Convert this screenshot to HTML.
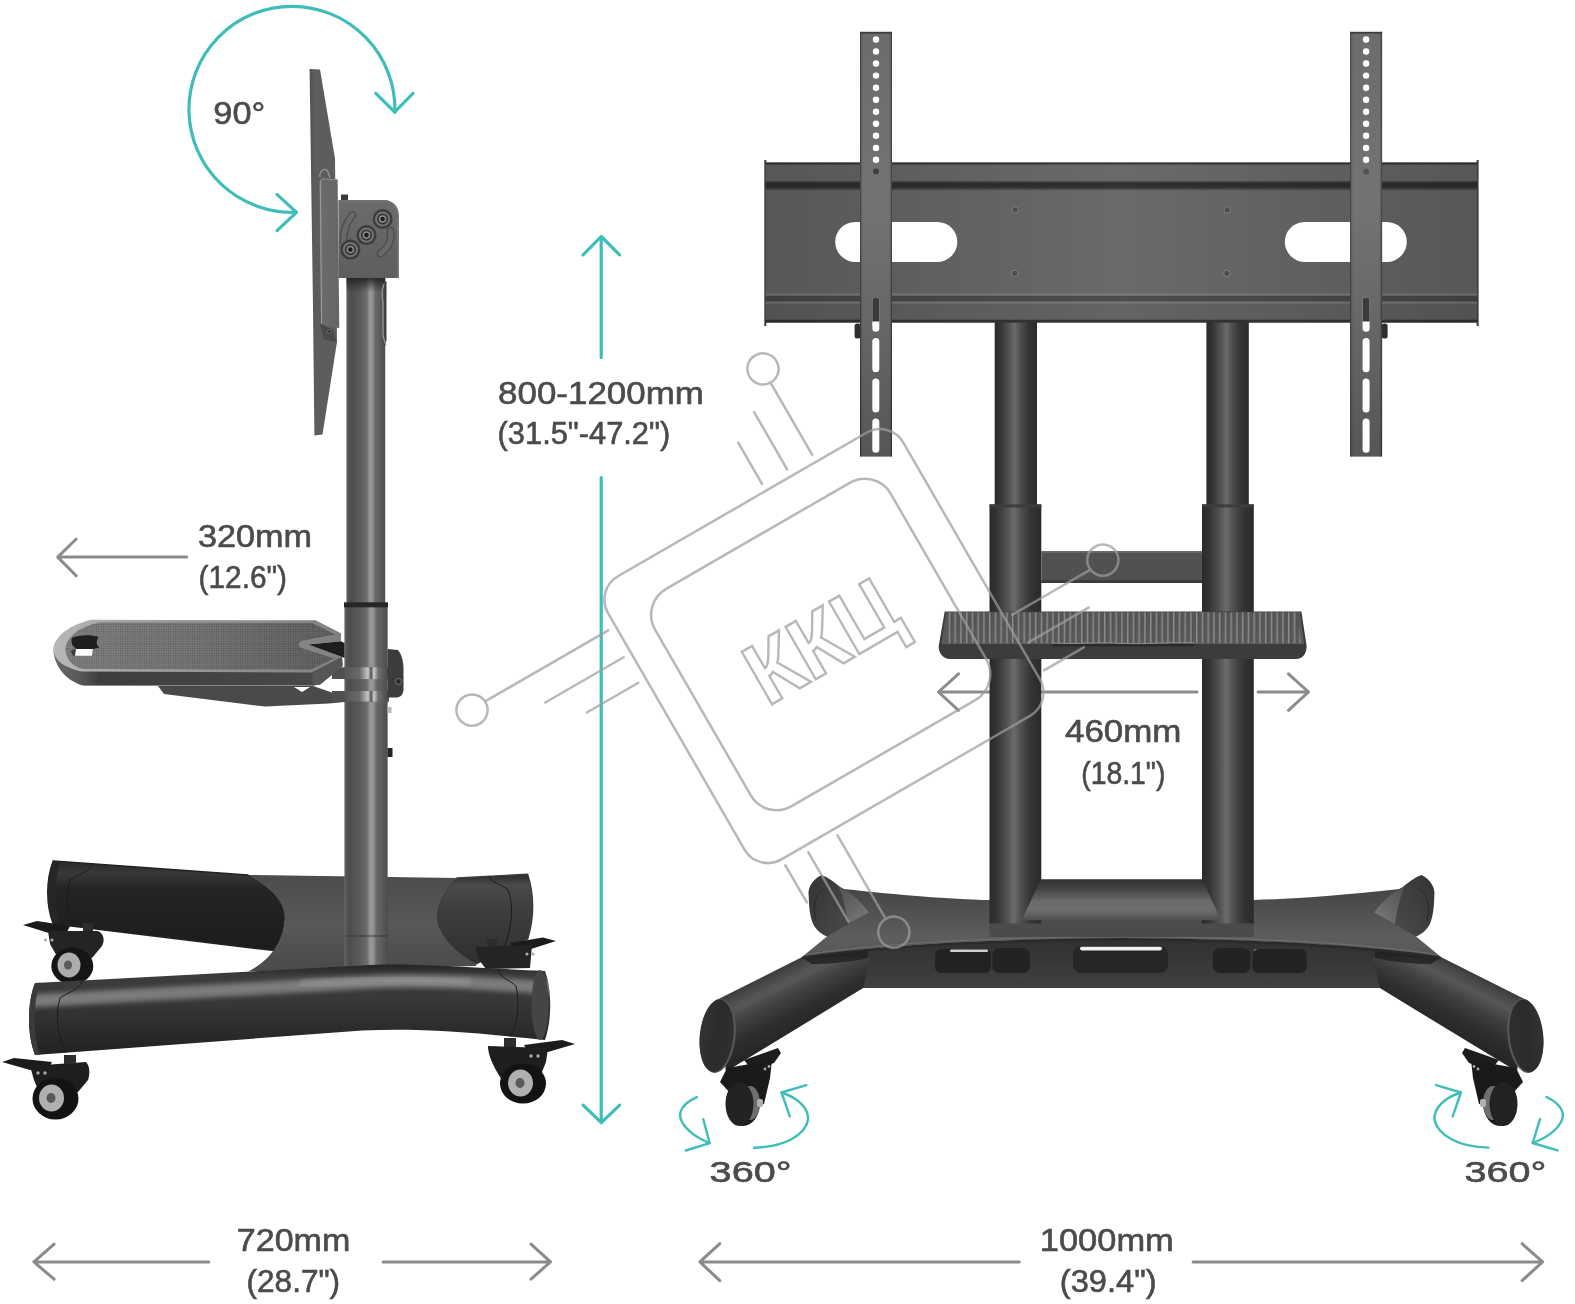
<!DOCTYPE html>
<html lang="en">
<head>
<meta charset="utf-8">
<title>TV cart dimensions</title>
<style>
html,body{margin:0;padding:0;background:#fff;}
body{width:1575px;height:1304px;overflow:hidden;font-family:"Liberation Sans",sans-serif;}
svg{display:block;position:absolute;left:0;top:0;}
.t{font-family:"Liberation Sans",sans-serif;font-size:30.8px;fill:#4b4b4b;stroke:#4b4b4b;stroke-width:.6px;}
.teal{fill:none;stroke:#3fbdb9;stroke-linecap:round;stroke-linejoin:round;}
.gr{fill:none;stroke:#8b8b8b;stroke-width:3;stroke-linecap:round;stroke-linejoin:round;}
.wm{fill:none;stroke:#9d9d9d;stroke-width:2.5;stroke-linecap:round;}
</style>
</head>
<body>
<svg width="1575" height="1304" viewBox="0 0 1575 1304">
<defs>
<linearGradient id="poleL" x1="0" y1="0" x2="1" y2="0"><stop offset="0" stop-color="#6c6c6c"/><stop offset=".04" stop-color="#565656"/><stop offset=".13" stop-color="#4d4d4d"/><stop offset=".36" stop-color="#5b5b5b"/><stop offset=".52" stop-color="#6c6c6c"/><stop offset=".6" stop-color="#989898"/><stop offset=".67" stop-color="#929292"/><stop offset=".75" stop-color="#686868"/><stop offset=".9" stop-color="#585858"/><stop offset="1" stop-color="#4c4c4c"/></linearGradient>
<linearGradient id="poleShadow" x1="0" y1="0" x2="0" y2="1">
  <stop offset="0" stop-color="#1e1e1e" stop-opacity=".85"/><stop offset="1" stop-color="#1e1e1e" stop-opacity="0"/>
</linearGradient>
<linearGradient id="ring" x1="0" y1="0" x2="1" y2="0">
  <stop offset="0" stop-color="#555"/><stop offset=".35" stop-color="#6a6a6a"/><stop offset=".55" stop-color="#c8c8c8"/><stop offset=".62" stop-color="#505050"/><stop offset=".68" stop-color="#d0d0d0"/><stop offset=".78" stop-color="#707070"/><stop offset="1" stop-color="#4a4a4a"/>
</linearGradient>
<linearGradient id="tubeBack" x1="0" y1="0" x2="0" y2="1"><stop offset="0" stop-color="#2a2a2a"/><stop offset=".14" stop-color="#383838"/><stop offset=".32" stop-color="#242424"/><stop offset="1" stop-color="#1c1c1c"/></linearGradient>
<linearGradient id="tubeBackR" x1="0" y1="0" x2="0" y2="1"><stop offset="0" stop-color="#2a2a2a"/><stop offset=".12" stop-color="#4a4a4a"/><stop offset=".4" stop-color="#3e3e3e"/><stop offset="1" stop-color="#2f2f2f"/></linearGradient>
<linearGradient id="tubeFront" x1="0" y1="0" x2="0" y2="1"><stop offset="0" stop-color="#242424"/><stop offset=".12" stop-color="#3c3c3c"/><stop offset=".4" stop-color="#383838"/><stop offset=".7" stop-color="#2c2c2c"/><stop offset="1" stop-color="#222"/></linearGradient>
<linearGradient id="midPlate" x1="0" y1="0" x2="0" y2="1"><stop offset="0" stop-color="#4c4c4c"/><stop offset=".5" stop-color="#585858"/><stop offset="1" stop-color="#4a4a4a"/></linearGradient>
<linearGradient id="shelfTop" gradientUnits="userSpaceOnUse" x1="62" y1="0" x2="336" y2="0">
  <stop offset="0" stop-color="#7c7c7c"/><stop offset=".5" stop-color="#707070"/><stop offset="1" stop-color="#5a5a5a"/>
</linearGradient>
<linearGradient id="shelfRim" gradientUnits="userSpaceOnUse" x1="53" y1="0" x2="342" y2="0">
  <stop offset="0" stop-color="#b8b8b8"/><stop offset=".2" stop-color="#a8a8a8"/><stop offset=".6" stop-color="#909090"/><stop offset="1" stop-color="#808080"/>
</linearGradient>
<linearGradient id="shelfFront" gradientUnits="userSpaceOnUse" x1="53" y1="0" x2="342" y2="0">
  <stop offset="0" stop-color="#6a6a6a"/><stop offset=".1" stop-color="#565656"/><stop offset=".16" stop-color="#3e3e3e"/><stop offset="1" stop-color="#4a4a4a"/>
</linearGradient>
<pattern id="mesh" width="2.4" height="2.4" patternUnits="userSpaceOnUse">
  <rect width="2.4" height="2.4" fill="none"/><rect width="1.1" height="1.1" fill="#3a3a3a" opacity=".35"/><rect x="1.2" y="1.2" width="1.1" height="1.1" fill="#a0a0a0" opacity=".3"/>
</pattern>
<linearGradient id="headBox" x1="0" y1="0" x2="0" y2="1"><stop offset="0" stop-color="#6c6c6c"/><stop offset=".5" stop-color="#646464"/><stop offset="1" stop-color="#5e5e5e"/></linearGradient>
<linearGradient id="tvPlate" x1="0" y1="0" x2="1" y2="0"><stop offset="0" stop-color="#4e4e4e"/><stop offset=".15" stop-color="#5c5c5c"/><stop offset="1" stop-color="#5e5e5e"/></linearGradient>
<linearGradient id="bracket" x1="0" y1="0" x2="1" y2="0"><stop offset="0" stop-color="#787878"/><stop offset=".2" stop-color="#6a6a6a"/><stop offset="1" stop-color="#666"/></linearGradient>
<filter id="blur4" x="-5%" y="-60%" width="110%" height="220%"><feGaussianBlur stdDeviation="4"/></filter>
<filter id="blur2" x="-5%" y="-60%" width="110%" height="220%"><feGaussianBlur stdDeviation="2.5"/></filter>
<clipPath id="clipFront"><path d="M35,983 L362,965.5 C400,963 440,966 545,971 C552,990 552,1020 545,1040 C470,1032 420,1028 362,1030.5 L35,1055 C27,1035 27,1003 35,983Z"/></clipPath>
<linearGradient id="poleR" x1="0" y1="0" x2="1" y2="0">
  <stop offset="0" stop-color="#2a2a2a"/><stop offset=".15" stop-color="#353535"/><stop offset=".35" stop-color="#545454"/><stop offset=".47" stop-color="#6b6b6b"/><stop offset=".6" stop-color="#505050"/><stop offset=".8" stop-color="#343434"/><stop offset="1" stop-color="#2a2a2a"/>
</linearGradient>
<linearGradient id="arm" x1="0" y1="0" x2="0" y2="1"><stop offset="0" stop-color="#6c6c6c"/><stop offset=".4" stop-color="#737373"/><stop offset=".7" stop-color="#666"/><stop offset="1" stop-color="#565656"/></linearGradient>
<linearGradient id="armEdge" x1="0" y1="0" x2="1" y2="0"><stop offset="0" stop-color="#000" stop-opacity=".55"/><stop offset=".045" stop-color="#000" stop-opacity=".12"/><stop offset=".1" stop-color="#000" stop-opacity="0"/><stop offset=".9" stop-color="#000" stop-opacity="0"/><stop offset=".955" stop-color="#000" stop-opacity=".12"/><stop offset="1" stop-color="#000" stop-opacity=".55"/></linearGradient>
<linearGradient id="groove" x1="0" y1="0" x2="0" y2="1">
  <stop offset="0" stop-color="#000" stop-opacity=".25"/><stop offset=".3" stop-color="#000" stop-opacity=".58"/><stop offset=".7" stop-color="#000" stop-opacity=".5"/><stop offset="1" stop-color="#000" stop-opacity=".15"/>
</linearGradient>
<linearGradient id="plateH" x1="0" y1="0" x2="1" y2="0">
  <stop offset="0" stop-color="#575757"/><stop offset=".25" stop-color="#606060"/><stop offset=".5" stop-color="#6a6a6a"/><stop offset=".75" stop-color="#606060"/><stop offset="1" stop-color="#575757"/>
</linearGradient>
<linearGradient id="shelfR" x1="0" y1="0" x2="0" y2="1"><stop offset="0" stop-color="#555"/><stop offset="1" stop-color="#5b5b5b"/></linearGradient>
<pattern id="ribs" width="5.75" height="10" patternUnits="userSpaceOnUse">
  <rect width="5.75" height="10" fill="none"/><rect x="0" width="1.6" height="10" fill="#929292" opacity=".9"/><rect x="1.6" width="1" height="10" fill="#3a3a3a" opacity=".35"/>
</pattern>
<linearGradient id="beam" x1="0" y1="0" x2="0" y2="1"><stop offset="0" stop-color="#303030"/><stop offset=".5" stop-color="#383838"/><stop offset="1" stop-color="#404040"/></linearGradient>
<linearGradient id="lowBar" x1="0" y1="0" x2="0" y2="1"><stop offset="0" stop-color="#303030"/><stop offset=".2" stop-color="#404040"/><stop offset=".55" stop-color="#6c6c6c"/><stop offset=".75" stop-color="#6e6e6e"/><stop offset="1" stop-color="#4e4e4e"/></linearGradient>
<linearGradient id="stubL" x1="0" y1="0" x2="1" y2="0.6">
  <stop offset="0" stop-color="#333"/><stop offset=".5" stop-color="#404040"/><stop offset="1" stop-color="#4c4c4c"/>
</linearGradient>
<linearGradient id="legL" gradientUnits="userSpaceOnUse" x1="755" y1="980" x2="785.2" y2="1040.3">
  <stop offset="0" stop-color="#3a3a3a"/><stop offset=".12" stop-color="#4a4a4a"/><stop offset=".25" stop-color="#575757"/><stop offset=".42" stop-color="#424242"/><stop offset=".7" stop-color="#2e2e2e"/><stop offset="1" stop-color="#252525"/>
</linearGradient>
<linearGradient id="topSurf" gradientUnits="userSpaceOnUse" x1="0" y1="888" x2="0" y2="957"><stop offset="0" stop-color="#454545"/><stop offset=".3" stop-color="#4f4f4f"/><stop offset=".7" stop-color="#5d5d5d"/><stop offset=".9" stop-color="#595959"/><stop offset="1" stop-color="#505050"/></linearGradient>
<linearGradient id="stubCone" x1="0" y1="0" x2="1" y2="1">
  <stop offset="0" stop-color="#505050"/><stop offset=".6" stop-color="#6a6a6a"/><stop offset="1" stop-color="#7c7c7c"/>
</linearGradient>
<linearGradient id="cap" x1="0" y1="0" x2="1" y2="0">
  <stop offset="0" stop-color="#333"/><stop offset=".5" stop-color="#2b2b2b"/><stop offset="1" stop-color="#2f2f2f"/>
</linearGradient>

</defs>
<rect width="1575" height="1304" fill="#fff"/>

<!-- ===== annotation lines that sit behind product ===== -->
<g id="ann-back">
  <path class="gr" d="M939,692H1197M1258,692H1308"/>
</g>

<!-- ===== LEFT FIGURE ===== -->
<g id="left-fig">
<!-- back tube (far) -->
<path fill="url(#tubeBack)" stroke="#222" stroke-width="1.6" d="M53.3,861 L247.6,875 C275,890 288,905 284,922 C283,935 278,945 274,950.5 L53.3,923.8 C46,905 46,880 53.3,861Z"/>
<path fill="#262626" d="M53,861 C46,880 46,905 53,924 L60,925 C54,905 54,880 60,861Z"/>
<path fill="none" stroke="#1c1c1c" stroke-width="1" d="M93,863 C90,872 78,874 70,880 C64,900 66,915 76,925"/>
<path fill="url(#tubeBackR)" stroke="#3c3c3c" stroke-width="1.6" d="M457,878 L527.6,874.3 C534,895 534,918 527.6,939 L476,963.8 C462,957 448,945 440,930 C432,915 440,895 457,878Z"/>
<path fill="none" stroke="#1a1a1a" stroke-width="1" d="M489,876 C492,884 502,884 508,890 C514,905 512,925 505,945"/>
<!-- back casters -->
<g id="casterBL">
  <path fill="#1b1b1b" d="M23,925 L37,921 L70,926 L66,934 L52,934Z"/>
  <path fill="#242424" d="M48,931 L98,931 C104,934 105,940 102,946 L92,958 L58,958 L50,944Z"/>
  <rect x="83" y="923" width="10" height="8" fill="#2c2c2c"/>
  <ellipse cx="72.3" cy="966" rx="21" ry="18.5" fill="#151515"/>
  <ellipse cx="69" cy="965" rx="11.5" ry="12.5" fill="#adadad"/>
  <ellipse cx="68" cy="965" rx="4" ry="4.5" fill="#5a5a5a"/>
  <circle cx="45.5" cy="940" r="1.6" fill="#aaa"/><circle cx="52" cy="940" r="1.6" fill="#aaa"/>
</g>
<g id="casterBR">
  <path fill="#1b1b1b" d="M556,941 L543,937.5 L510,943 L514,950 L528,950Z"/>
  <path fill="#242424" d="M476,947 L532,945 L530,968 L486,969 C480,962 476,955 476,947Z"/>
  <rect x="487" y="939" width="10" height="8" fill="#2c2c2c"/>
  <circle cx="527" cy="954" r="1.6" fill="#aaa"/><circle cx="533" cy="954" r="1.6" fill="#aaa"/>
</g>
<!-- middle plate -->
<path fill="url(#midPlate)" d="M247.6,875 L457,878 C440,895 432,915 440,930 C448,945 462,957 476,964 L476,966 L248,971.4 C262,965 280,950 284,925 C288,905 275,890 247.6,875Z"/>
<!-- pole lower (wide) -->
<rect x="344.4" y="604" width="43.2" height="364" fill="url(#poleL)"/>
<rect x="344.4" y="935" width="43.2" height="2" fill="#3a3a3a" opacity=".5"/>
<!-- pole upper -->
<rect x="346.4" y="276" width="38.8" height="328" fill="url(#poleL)"/>
<rect x="346.4" y="278" width="38.8" height="14" fill="url(#poleShadow)"/>
<rect x="344" y="602.3" width="44" height="5" fill="#262626"/>
<!-- rear cable clip on pole -->
<path fill="#3c3c3c" d="M384.5,282 L386.5,281 L386.5,340 L384.5,346Z"/>
<path fill="none" stroke="#9a9a9a" stroke-width="1.2" d="M384,284 C381,292 382,298 383,302 L383,333 C383,338 385,342 386,346"/>
<!-- small pins on pole right -->
<rect x="387.5" y="707" width="4" height="6" fill="#b8b8b8"/>
<rect x="387.5" y="748" width="5" height="9" fill="#222"/>
<!-- front tube -->
<path fill="url(#tubeFront)" d="M35,983 L362,965.5 C400,963 440,966 545,971 C552,990 552,1020 545,1040 C470,1032 420,1028 362,1030.5 L35,1055 C27,1035 27,1003 35,983Z"/>
<g clip-path="url(#clipFront)"><path fill="none" stroke="#8c8c8c" stroke-width="13" filter="url(#blur2)" opacity=".8" d="M30,1001 L362,982.5 C420,979 470,982 550,988"/><path fill="none" stroke="#9a9a9a" stroke-width="7" filter="url(#blur2)" opacity=".6" d="M300,984 C380,979 420,979 470,982"/></g>
<path fill="#3a3a3a" d="M35,983 C27,1003 27,1035 35,1055 L40,1054.6 C33,1035 33,1003 40,982.7Z"/>
<path fill="none" stroke="#1c1c1c" stroke-width="1" d="M82,981 C80,990 68,992 60,998 C55,1015 57,1035 66,1053"/>
<path fill="none" stroke="#1c1c1c" stroke-width="1" d="M498,969.5 C500,978 510,980 516,986 C520,1003 518,1025 510,1037"/>
<ellipse cx="540" cy="1005" rx="8.5" ry="35" fill="#454545"/>
<!-- front casters -->
<g id="casterFL">
  <path fill="#1b1b1b" d="M2,1062 L14,1058 L52,1062 L48,1070 L30,1070Z"/>
  <path fill="#1e1e1e" d="M30,1066 L86,1062 C90,1066 90,1074 88,1080 L78,1092 L40,1094 L34,1080Z"/>
  <rect x="64" y="1055" width="12" height="9" fill="#2c2c2c"/>
  <ellipse cx="55.5" cy="1098.5" rx="23" ry="21" fill="#131313"/>
  <ellipse cx="51.5" cy="1098" rx="12.5" ry="13.5" fill="#b0b0b0"/>
  <ellipse cx="51" cy="1098" rx="4.5" ry="5" fill="#5a5a5a"/>
  <circle cx="38" cy="1073" r="1.7" fill="#aaa"/><circle cx="45" cy="1073" r="1.7" fill="#aaa"/>
</g>
<g id="casterFR">
  <path fill="#1b1b1b" d="M575,1044 L562,1040 L524,1045 L528,1052 L548,1052Z"/>
  <path fill="#1e1e1e" d="M488,1046 L548,1048 L546,1062 L538,1082 L502,1080 C494,1068 488,1056 488,1046Z"/>
  <rect x="504" y="1038" width="12" height="9" fill="#2c2c2c"/>
  <ellipse cx="523" cy="1083.5" rx="23" ry="20" fill="#131313"/>
  <ellipse cx="520.5" cy="1083" rx="12.5" ry="13.5" fill="#b0b0b0"/>
  <ellipse cx="520" cy="1083" rx="4.5" ry="5" fill="#5a5a5a"/>
  <circle cx="531" cy="1056" r="1.7" fill="#aaa"/><circle cx="538" cy="1056" r="1.7" fill="#aaa"/>
</g>
<!-- shelf under-bracket -->
<path fill="#4a4a4a" d="M158,686 L313,686 L345,697 L345,702 L329,703.5 L265,706.5 L164,694Z"/>
<path fill="#fff" d="M294,687 L310,687 L302,692Z"/>
<!-- clamp rings -->
<path fill="#505050" d="M332,667.2 L389,667.2 L389,679.1 L332,679.1Z"/>
<path fill="#505050" d="M332,691 L389,691 L389,701.7 L332,701.7Z"/>
<rect x="344.4" y="667.2" width="43.2" height="11.9" fill="url(#ring)"/>
<rect x="344.4" y="691" width="43.2" height="10.7" fill="url(#ring)"/>
<path fill="#3c3c3c" d="M387.5,649 L398,650 C402,655 403.5,662 403.5,670 L403.5,690 C403,695 400,697.5 396,697.5 L387.5,697.5Z"/>
<circle cx="398.5" cy="681.5" r="3" fill="#2a2a2a" stroke="#8a8a8a" stroke-width=".8"/>
<!-- shelf -->
<path fill="url(#shelfRim)" d="M91,619.7 L315.6,620.3 L341,633.2 L341,641.3 L308,644.5 L342,657 L342.5,666 L320,684.5 L313,685.6 L83,685.6 C65,680 54,665 53.2,648 C56,635 70,625 91,619.7Z"/>
<path fill="url(#shelfFront)" d="M53.2,648 C54,660 62,667 82,671.5 L312,672.6 L342,657 L342.5,666 L320,684.5 L313,685.6 L83,685.6 C65,680 54,666 53.2,648Z"/>
<path fill="#565656" d="M312,672.6 L342,657 L342.5,666 L320,684.5 L313,685.6Z"/>
<path fill="url(#shelfTop)" d="M99,622.6 L312,623 L335,634.5 L303,640.5 C297,642.5 297,646.5 303,648.5 L334,658.5 L311,669.5 L84,669 C72,667 66,659 65.4,649 C67,636 80,627 99,622.6Z"/>
<path fill="url(#mesh)" d="M99,622.6 L312,623 L335,634.5 L303,640.5 C297,642.5 297,646.5 303,648.5 L334,658.5 L311,669.5 L84,669 C72,667 66,659 65.4,649 C67,636 80,627 99,622.6Z"/>
<path fill="#1e1e1e" d="M308,644.5 L341,641.3 L344.5,643 L344.5,658 L342,657Z"/>
<path fill="#1f1f1f" d="M72,638 C78,634.5 92,634.5 98.5,637 C96,641 96,645 99.5,647.5 L93,649 L77,649 C72,647 70.5,641 72,638Z"/>
<path fill="#3a3a3a" d="M70.5,651 L77,648.6 L77,656 L73,655.5Z"/>
<path fill="#fff" d="M76,649 L92.8,649 L92,655.7 L75,655.7Z"/>
<!-- head box -->
<rect x="341" y="194.5" width="7" height="6" fill="#3a3a3a"/>
<path fill="url(#headBox)" d="M338.4,200 L384,200 C393,200 398.8,207 398.8,215 L398.8,278 L338.4,278Z"/>
<path fill="none" stroke="#747474" stroke-width="1.3" d="M339,201 L384,201 C392.5,201 397.8,207.5 397.8,215 L397.8,277"/>
<path fill="none" stroke="#484848" stroke-width="7.5" stroke-linecap="round" d="M352.4,215 C346.5,222 343.5,232 343.6,241.5"/>
<path fill="none" stroke="#686868" stroke-width="5.3" stroke-linecap="round" d="M352.4,215 C346.5,222 343.5,232 343.6,241.5"/>
<path fill="none" stroke="#484848" stroke-width="7.5" stroke-linecap="round" d="M390.5,231 C392,240 388,249 380.5,253.5"/>
<path fill="none" stroke="#686868" stroke-width="5.3" stroke-linecap="round" d="M390.5,231 C392,240 388,249 380.5,253.5"/>
<g>
  <circle cx="382.6" cy="219" r="10" fill="#3c3c3c"/><circle cx="382.6" cy="219" r="7.6" fill="#737373"/><circle cx="382.6" cy="219" r="5.6" fill="#383838"/><circle cx="382.6" cy="219" r="3.8" fill="#8e8e8e"/><circle cx="382.6" cy="219" r="2.3" fill="#1e1e1e"/>
  <circle cx="366.5" cy="235.1" r="10" fill="#3c3c3c"/><circle cx="366.5" cy="235.1" r="7.6" fill="#737373"/><circle cx="366.5" cy="235.1" r="5.6" fill="#383838"/><circle cx="366.5" cy="235.1" r="3.8" fill="#8e8e8e"/><circle cx="366.5" cy="235.1" r="2.3" fill="#1e1e1e"/>
  <circle cx="350.4" cy="249.6" r="10" fill="#3c3c3c"/><circle cx="350.4" cy="249.6" r="7.6" fill="#737373"/><circle cx="350.4" cy="249.6" r="5.6" fill="#383838"/><circle cx="350.4" cy="249.6" r="3.8" fill="#8e8e8e"/><circle cx="350.4" cy="249.6" r="2.3" fill="#1e1e1e"/>
</g>
<!-- TV plate (side) -->
<path fill="url(#tvPlate)" d="M309.6,69 L320,69.4 L335,158.5 L337,342 L322.5,434.5 L314.4,435.6 L312.9,300Z"/>
<!-- hook ring -->
<path fill="none" stroke="#9a9a9a" stroke-width="1.2" d="M320,177 C319,170 326,167 328,172 L330,178"/>
<!-- bracket -->
<path fill="url(#bracket)" d="M319.5,181 L322,178.3 L337.6,179.5 L339.3,328 L321,326Z"/>
<path fill="none" stroke="#9c9c9c" stroke-width="1" d="M320.3,181 L321.6,326"/>
<path fill="none" stroke="#8c8c8c" stroke-width="1" d="M320,181 L322.4,178.8 L337.4,180"/>
<path fill="#4a4a4a" d="M319.6,323 L333,330 L336.8,342 L324,340Z"/>
<circle cx="329.5" cy="331.5" r="2" fill="#333" stroke="#8a8a8a" stroke-width=".6"/>

</g>

<!-- ===== RIGHT FIGURE ===== -->
<g id="right-fig">
<!-- ===== base ===== -->
<!-- under beam -->
<path fill="url(#beam)" d="M801.7,957.3 C880,945 980,939.5 1121.5,938.5 C1263,939.5 1363,945 1441.3,957.3 L1379.8,988.1 L863.2,988.1Z"/>
<!-- slots in beam -->
<rect x="935" y="949" width="56" height="24" rx="6" fill="#222"/>
<rect x="992.5" y="948" width="37.5" height="25" rx="7" fill="#232323"/>
<rect x="1073.2" y="946.2" width="95" height="26.6" rx="8" fill="#262626"/>
<rect x="1080" y="946.8" width="82" height="3.6" rx="1.8" fill="#f2f2f2"/>
<rect x="950" y="949.5" width="38" height="2.4" rx="1.2" fill="#cfcfcf"/>
<rect x="1254" y="949.5" width="38" height="2.4" rx="1.2" fill="#cfcfcf"/>
<rect x="1212.9" y="948" width="37.5" height="25" rx="7" fill="#232323"/>
<rect x="1252.6" y="949" width="54" height="24" rx="6" fill="#222"/>
<g id="baseHalf">
  <!-- surface half -->
  <path fill="url(#topSurf)" d="M826.9,936.4 L801.7,957.3 C880,945 980,939.5 1122,938.5 L1122,899 L989,900 C950,899 900,895 843.7,888.9Z"/>
  <!-- stub -->
  <path fill="url(#stubL)" d="M821.3,874.9 C812,880 807.5,888 808.7,895.9 C809,908 810,916 813,923.8 C816,930 821,934 826.9,936.4 L868.8,912.6 C860,900 850,892 840.9,887.5 C834,882 828,877 821.3,874.9Z"/>
  <path fill="url(#stubCone)" d="M838,886 C850,892 860,900 868.8,912.6 L848,924 C846,910 843,896 838,886Z"/>
  <path fill="none" stroke="#2a2a2a" stroke-width="1" d="M824,889 C816,893 812,905 816,921"/>
  <!-- leg -->
  <path fill="url(#legL)" d="M716,1000.2 L801.7,957.3 L870,957 L863.2,988.1 L726,1071.6Z"/>
  <!-- lip shadow on leg -->
  <path fill="#1f1f1f" opacity=".8" d="M801.7,957.3 C830,953 850,951 868,949 L868,958 C850,962 830,964 812,964Z"/>
  <!-- end cap -->
  <ellipse cx="717.8" cy="1035.8" rx="17.8" ry="37.3" transform="rotate(6 717.8 1035.8)" fill="#565656"/>
  <ellipse cx="716.6" cy="1035.8" rx="16.8" ry="36.4" transform="rotate(6 716.6 1035.8)" fill="url(#cap)"/>
</g>
<g transform="translate(2243,0) scale(-1,1)">
  <!-- surface half -->
  <path fill="url(#topSurf)" d="M826.9,936.4 L801.7,957.3 C880,945 980,939.5 1122,938.5 L1122,899 L989,900 C950,899 900,895 843.7,888.9Z"/>
  <!-- stub -->
  <path fill="url(#stubL)" d="M821.3,874.9 C812,880 807.5,888 808.7,895.9 C809,908 810,916 813,923.8 C816,930 821,934 826.9,936.4 L868.8,912.6 C860,900 850,892 840.9,887.5 C834,882 828,877 821.3,874.9Z"/>
  <path fill="url(#stubCone)" d="M838,886 C850,892 860,900 868.8,912.6 L848,924 C846,910 843,896 838,886Z"/>
  <path fill="none" stroke="#2a2a2a" stroke-width="1" d="M824,889 C816,893 812,905 816,921"/>
  <!-- leg -->
  <path fill="url(#legL)" d="M716,1000.2 L801.7,957.3 L870,957 L863.2,988.1 L726,1071.6Z"/>
  <!-- lip shadow on leg -->
  <path fill="#1f1f1f" opacity=".8" d="M801.7,957.3 C830,953 850,951 868,949 L868,958 C850,962 830,964 812,964Z"/>
  <!-- end cap -->
  <ellipse cx="717.8" cy="1035.8" rx="17.8" ry="37.3" transform="rotate(6 717.8 1035.8)" fill="#565656"/>
  <ellipse cx="716.6" cy="1035.8" rx="16.8" ry="36.4" transform="rotate(6 716.6 1035.8)" fill="url(#cap)"/>
</g>
<path fill="none" stroke="#2a2a2a" stroke-width="2.4" d="M802.5,957.6 C882,945.6 980,940.2 1121.5,939.2 C1263,940.2 1361,945.6 1440.5,957.6"/>
<path fill="none" stroke="#707070" stroke-width="1" d="M806,954.5 C884,943 980,937.6 1121.5,936.6 C1263,937.6 1359,943 1437,954.5"/>
<!-- lower cross bar between poles -->
<rect x="989.5" y="919" width="264.3" height="18" fill="#4b4b4b"/>
<!-- casters -->
<g id="cL">
  <path fill="#1d1d1d" d="M744,1060 L778,1048 L781,1053 L774,1063 L752,1070Z"/>
  <path fill="#1a1a1a" d="M727,1068 L772,1060 L770,1078 L764,1104 L742,1106 L720,1082Z"/>
  <ellipse cx="743" cy="1103" rx="17" ry="23" fill="#1a1a1a"/>
  <ellipse cx="750" cy="1103" rx="10" ry="17" fill="#6e6e6e"/>
  <ellipse cx="739.5" cy="1104" rx="14" ry="22" fill="#222"/>
  <rect x="757" y="1099" width="6" height="8" rx="2" fill="#b0b0b0"/>
  <circle cx="765" cy="1069" r="1.4" fill="#aaa"/><circle cx="769" cy="1066.5" r="1.4" fill="#aaa"/>
</g>
<g id="cR" transform="translate(2243,0) scale(-1,1)">
  <path fill="#1d1d1d" d="M744,1060 L778,1048 L781,1053 L774,1063 L752,1070Z"/>
  <path fill="#1a1a1a" d="M727,1068 L772,1060 L770,1078 L764,1104 L742,1106 L720,1082Z"/>
  <ellipse cx="743" cy="1103" rx="17" ry="23" fill="#1a1a1a"/>
  <ellipse cx="750" cy="1103" rx="10" ry="17" fill="#6e6e6e"/>
  <ellipse cx="739.5" cy="1104" rx="14" ry="22" fill="#222"/>
  <rect x="757" y="1099" width="6" height="8" rx="2" fill="#b0b0b0"/>
  <circle cx="765" cy="1069" r="1.4" fill="#aaa"/><circle cx="769" cy="1066.5" r="1.4" fill="#aaa"/>
</g>
<!-- ===== poles ===== -->
<rect x="994.7" y="320" width="42.3" height="186" fill="url(#poleR)"/>
<rect x="1206.4" y="320" width="42.4" height="186" fill="url(#poleR)"/>
<rect x="989.5" y="504.4" width="51.8" height="419" fill="url(#poleR)"/>
<rect x="1202" y="504.4" width="51.8" height="419" fill="url(#poleR)"/>
<rect x="989.5" y="504.4" width="51.8" height="3" fill="#3c3c3c"/>
<rect x="1202" y="504.4" width="51.8" height="3" fill="#3c3c3c"/>
<path fill="url(#lowBar)" d="M1040.7,879.3 L1202.4,879.3 L1220.8,920.2 L1021.8,920.2Z"/>
<!-- cross bar -->
<rect x="1041.3" y="551" width="160.7" height="31.9" fill="#515151"/>
<rect x="1041.3" y="551" width="160.7" height="1.8" fill="#6a6a6a"/>
<rect x="1041.3" y="580.2" width="160.7" height="2.7" fill="#3a3a3a"/>
<!-- shelf -->
<path fill="#3c3c3c" d="M944.7,611.5 L1301.4,611.5 L1306.6,646 C1306.6,653.5 1303,659 1296,659 L950,659 C943,659 938.7,653.5 938.7,646Z"/>
<path fill="url(#shelfR)" d="M946,612 L1300,612 L1304,644 L941.5,644Z"/>
<path fill="url(#ribs)" d="M948.5,612.6 L1297.5,612.6 L1301,643.2 L944.8,643.2Z"/>
<path fill="#2a2a2a" d="M1050,643.4 L1196,643.4 L1192,646.4 L1054,646.4Z"/>
<path fill="none" stroke="#9a9a9a" stroke-width=".9" d="M1051,643 C1080,644.4 1100,641.9 1121,643.4 C1150,644.4 1170,641.9 1195,643"/>
<!-- ===== wall plate ===== -->
<rect x="764.3" y="160" width="2" height="166" fill="#3a3a3a"/>
<rect x="1476.6" y="160" width="2" height="166" fill="#3a3a3a"/>
<rect x="765.5" y="162.4" width="711.6" height="160.2" fill="url(#plateH)"/>
<rect x="765.5" y="162.4" width="711.6" height="2.2" fill="#000" opacity=".45"/>
<rect x="765.5" y="181" width="711.6" height="9.2" fill="url(#groove)"/>
<rect x="765.5" y="293.5" width="711.6" height="2.2" fill="#fff" opacity=".13"/>
<rect x="765.5" y="295.7" width="711.6" height="5.8" fill="#000" opacity=".28"/>
<rect x="765.5" y="301.5" width="711.6" height="2.2" fill="#fff" opacity=".1"/>
<rect x="765.5" y="303.7" width="711.6" height="16" fill="#000" opacity=".05"/>
<rect x="765.5" y="319.7" width="711.6" height="3" fill="#000" opacity=".5"/>
<rect x="835.2" y="221.9" width="122.1" height="40" rx="20" fill="#fff"/>
<rect x="1284.8" y="221.9" width="122" height="40" rx="20" fill="#fff"/>
<g fill="#4d4d4d" stroke="#8a8a8a" stroke-width=".8">
  <circle cx="1015.2" cy="209.9" r="3.2"/><circle cx="1014.8" cy="273.4" r="3.2"/>
  <circle cx="1227.2" cy="209.9" r="3.2"/><circle cx="1226.8" cy="273.4" r="3.2"/>
</g>
<!-- knobs -->
<rect x="854.6" y="323.5" width="6" height="15" rx="2.5" fill="#2e2e2e"/>
<rect x="1381.6" y="323.5" width="6" height="15" rx="2.5" fill="#2e2e2e"/>
<!-- ===== vertical arms ===== -->
<g id="armL">
  <rect x="860" y="31.7" width="32" height="424.9" fill="url(#arm)"/><rect x="860" y="31.7" width="32" height="424.9" fill="url(#armEdge)"/>
  <rect x="860" y="32" width="32" height="1.6" fill="#3c3c3c"/>
  <g fill="#fff">
    <circle cx="876" cy="39.5" r="3.2"/><circle cx="876" cy="51.5" r="3.2"/><circle cx="876" cy="63.5" r="3.2"/><circle cx="876" cy="75.6" r="3.2"/><circle cx="876" cy="87.7" r="3.2"/><circle cx="876" cy="99.7" r="3.2"/><circle cx="876" cy="111.7" r="3.2"/><circle cx="876" cy="123.7" r="3.2"/><circle cx="876" cy="135.8" r="3.2"/><circle cx="876" cy="147.9" r="3.2"/><circle cx="876" cy="159.8" r="3.2"/>
    <rect x="872.3" y="297.2" width="7" height="34.5" rx="3.5"/>
    <rect x="872.3" y="338" width="7" height="34.2" rx="3.5"/>
    <rect x="872.3" y="378.4" width="7" height="34.2" rx="3.5"/>
    <rect x="872.3" y="418.4" width="7" height="34.3" rx="3.5"/>
  </g>
  <circle cx="876" cy="171.5" r="3" fill="#3e3e3e"/>
  <path fill="#3a3a3a" d="M872.3,300.7 a3.5,3.5 0 0 1 7,0 V321.5 h-7Z"/>
</g>
<g id="armR">
  <rect x="1350.1" y="31.7" width="32" height="424.9" fill="url(#arm)"/><rect x="1350.1" y="31.7" width="32" height="424.9" fill="url(#armEdge)"/>
  <rect x="1350.1" y="32" width="32" height="1.6" fill="#3c3c3c"/>
  <g fill="#fff">
    <circle cx="1366.1" cy="39.5" r="3.2"/><circle cx="1366.1" cy="51.5" r="3.2"/><circle cx="1366.1" cy="63.5" r="3.2"/><circle cx="1366.1" cy="75.6" r="3.2"/><circle cx="1366.1" cy="87.7" r="3.2"/><circle cx="1366.1" cy="99.7" r="3.2"/><circle cx="1366.1" cy="111.7" r="3.2"/><circle cx="1366.1" cy="123.7" r="3.2"/><circle cx="1366.1" cy="135.8" r="3.2"/><circle cx="1366.1" cy="147.9" r="3.2"/><circle cx="1366.1" cy="159.8" r="3.2"/>
    <rect x="1362.6" y="297.2" width="7" height="34.5" rx="3.5"/>
    <rect x="1362.6" y="338" width="7" height="34.2" rx="3.5"/>
    <rect x="1362.6" y="378.4" width="7" height="34.2" rx="3.5"/>
    <rect x="1362.6" y="418.4" width="7" height="34.3" rx="3.5"/>
  </g>
  <circle cx="1366.1" cy="171.5" r="3" fill="#525252"/>
  <path fill="#3a3a3a" d="M1362.6,300.7 a3.5,3.5 0 0 1 7,0 V321.5 h-7Z"/>
</g>

</g>

<!-- ===== annotations ===== -->
<g id="ann">
  <!-- 90 deg arc -->
  <path class="teal" stroke-width="3.2" d="M394.9,112.2A103,103 0 1 0 296.5,212.2"/>
  <path class="teal" stroke-width="3.2" d="M375.8,93.3L394.7,112L413,93.3"/>
  <path class="teal" stroke-width="3.2" d="M277,194.4L296.5,212.4L277,230.6"/>
  <!-- vertical arrow -->
  <path class="teal" stroke-width="3.2" d="M601.2,238.5V357.5M601.2,477.5V1120.5"/>
  <path class="teal" stroke-width="3.2" d="M583.1,254.9L601.2,236.5L619.6,254.9"/>
  <path class="teal" stroke-width="3.2" d="M583.1,1105.2L601.3,1122.7L619.7,1105.2"/>
  <!-- 320mm arrow -->
  <path class="gr" d="M58,557.1H186.7M76.2,539L57.7,557.1L76.2,575.8"/>
  <!-- 720mm arrows -->
  <path class="gr" d="M34.2,1261.9H208.8M54.1,1244.2L33.9,1261.9L54.1,1279.2"/>
  <path class="gr" d="M383,1261.9H550.2M531,1244.2L550.5,1261.9L531,1279.2"/>
  <!-- 1000mm arrows -->
  <path class="gr" d="M700.2,1261.9H1019.2M719.8,1243.7L699.9,1261.9L719.8,1280.6"/>
  <path class="gr" d="M1193.1,1261.9H1542.3M1522.1,1243.7L1542.6,1261.9L1522.1,1280.6"/>
  <!-- 460mm arrow heads -->
  <path class="gr" d="M958.5,673.8L938.5,692L958.5,710.3M1288.4,673.8L1308.5,692L1288.4,710.3"/>
  <!-- 360 rotate arrows left -->
  <path class="teal" stroke-width="2.4" d="M696.8,1097.1C682,1104 677,1113 682,1122C687,1131 697,1138 709.7,1143.1"/>
  <path class="teal" stroke-width="2.4" d="M703.3,1119.2L709.7,1143.1L685.8,1150.5"/>
  <path class="teal" stroke-width="2.4" d="M753.9,1147.7C785,1147 805,1135 808,1120C809,1108 798,1098 781.5,1092.5"/>
  <path class="teal" stroke-width="2.4" d="M806.3,1085.2L781.5,1092.5L789.8,1116.4"/>
  <!-- 360 rotate arrows right -->
  <path class="teal" stroke-width="2.4" d="M1546.5,1097C1561,1104 1566,1113 1561,1122C1556,1131 1546,1138 1532.7,1143"/>
  <path class="teal" stroke-width="2.4" d="M1540,1119.1L1532.7,1143L1557.5,1150.4"/>
  <path class="teal" stroke-width="2.4" d="M1488.5,1147.6C1458,1147 1438,1135 1434.5,1120C1433.5,1108 1444,1098 1460.9,1092.5"/>
  <path class="teal" stroke-width="2.4" d="M1436.1,1085.1L1460.9,1092.5L1452.7,1116.4"/>
</g>

<!-- ===== text ===== -->
<g id="txt" opacity="0.995">
  <text class="t" x="213.3" y="124.3" textLength="52" lengthAdjust="spacingAndGlyphs">90°</text>
  <text class="t" x="198" y="546.6" textLength="114" lengthAdjust="spacingAndGlyphs">320mm</text>
  <text class="t" x="198.6" y="587.6" textLength="88.4" lengthAdjust="spacingAndGlyphs">(12.6")</text>
  <text class="t" x="498" y="403.6" textLength="206" lengthAdjust="spacingAndGlyphs">800-1200mm</text>
  <text class="t" x="497.6" y="444.3" textLength="172.6" lengthAdjust="spacingAndGlyphs">(31.5"-47.2")</text>
  <text class="t" x="236.8" y="1250.7" textLength="113.5" lengthAdjust="spacingAndGlyphs">720mm</text>
  <text class="t" x="246.6" y="1291.6" textLength="93.5" lengthAdjust="spacingAndGlyphs">(28.7")</text>
  <text class="t" x="1039.8" y="1250.7" textLength="134" lengthAdjust="spacingAndGlyphs">1000mm</text>
  <text class="t" x="1059.8" y="1291.6" textLength="96.8" lengthAdjust="spacingAndGlyphs">(39.4")</text>
  <text class="t" x="1065" y="742" textLength="116.4" lengthAdjust="spacingAndGlyphs">460mm</text>
  <text class="t" x="1081.2" y="783.6" textLength="84.2" lengthAdjust="spacingAndGlyphs">(18.1")</text>
  <text class="t" x="709.6" y="1182.2" textLength="82" lengthAdjust="spacingAndGlyphs" style="font-size:29.5px">360°</text>
  <text class="t" x="1464.4" y="1182.2" textLength="82" lengthAdjust="spacingAndGlyphs" style="font-size:29.5px">360°</text>
</g>

<!-- ===== watermark (local frame: u,v rotated -30deg) ===== -->
<g id="wm" opacity="0.72" transform="rotate(-30)">
  <rect class="wm" x="220" y="808" width="341" height="327" rx="27"/>
  <rect class="wm" x="252.5" y="843" width="272" height="251" rx="30"/>
  <!-- top pins -->
  <path class="wm" d="M418,752.5V800M447,734V800M476,716.6V800"/>
  <circle class="wm" cx="476.3" cy="701" r="15.6"/>
  <!-- left pins -->
  <path class="wm" d="M69.5,850H211.5M121,881H211.5M152,910.5H211.5"/>
  <circle class="wm" cx="53.7" cy="851" r="15.6"/>
  <!-- right pins -->
  <path class="wm" d="M569,1038.5H659M569,1070.5H639M569,1102.5H615"/>
  <circle class="wm" cx="675" cy="1036.5" r="15.6"/>
  <!-- bottom pins -->
  <path class="wm" d="M247.5,1142V1185M274,1142V1222M307.6,1142V1238.5"/>
  <circle class="wm" cx="308" cy="1254.2" r="15.6"/>
  <text x="311" y="996" textLength="161" lengthAdjust="spacingAndGlyphs" style="font-family:'Liberation Sans',sans-serif;font-weight:bold;font-size:88px;fill:none;stroke:#9d9d9d;stroke-width:2.5px;">ККЦ</text>
</g>
</svg>
</body>
</html>
